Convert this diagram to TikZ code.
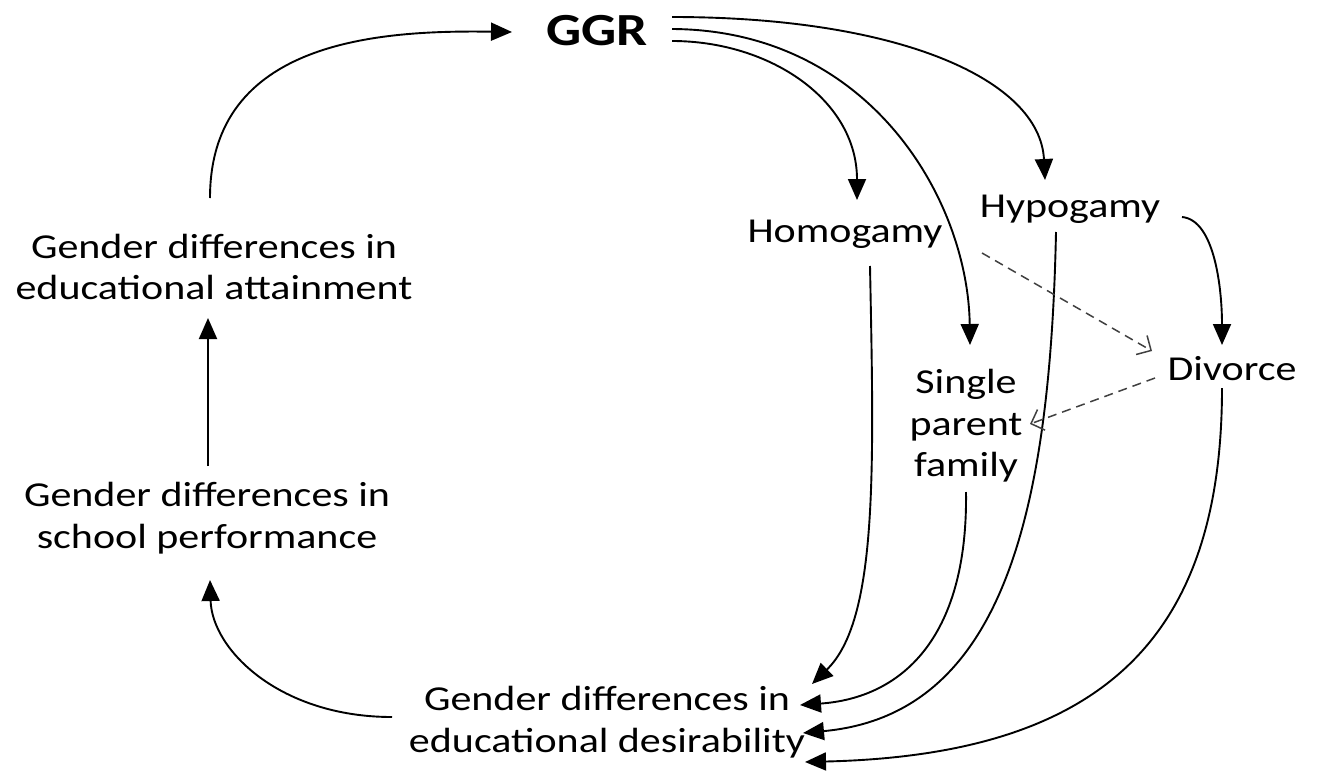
\documentclass[tikz,border=0pt]{standalone}
\usepackage{fontspec}
\setmainfont{Carlito}[FakeStretch=1.2]
\usetikzlibrary{arrows.meta}
\begin{document}
\begin{tikzpicture}[x=1pt,y=-1pt,
  txt/.style={inner sep=0pt,align=center,font=\fontsize{35}{41.5}\selectfont},
  arr/.style={line width=1.9pt,-{Triangle[length=21pt,width=18pt]}},
  darr/.style={line width=1.5pt,draw=black!75,dash pattern=on 9pt off 6pt,-{Straight Barb[length=11pt,width=22pt,line width=1.5pt]}}]
\useasboundingbox (0,0) rectangle (1319,771);
\node[txt,font=\fontsize{46}{50}\selectfont\bfseries] (ggr) at (597,31) {GGR};
\node[txt] (att) at (214,267) {Gender differences in\\educational attainment};
\node[txt] (sch) at (207,518) {Gender differences in\\school performance};
\node[txt] (des) at (607,722) {Gender differences in\\educational desirability};
\node[txt] (hom) at (845,234) {Homogamy};
\node[txt] (hyp) at (1070,209) {Hypogamy};
\node[txt] (div) at (1232,369) {Divorce};
\node[txt] (spf) at (966,426) {Single\\parent\\family};
% left cycle
\draw[arr] ([shift={(-4,-69)}]att.center) .. controls (210,40) and (380,30) .. ([shift={(-85,1)}]ggr.center);
\draw[arr] ([shift={(1,-52)}]sch.center) -- ([shift={(-6,51)}]att.center);
\draw[arr] ([shift={(-215,-5)}]des.center) .. controls (280,717) and (212,650) .. ([shift={(3,62)}]sch.center);
% from GGR
\draw[arr] ([shift={(75,10)}]ggr.center) .. controls (770,41) and (857,100) .. ([shift={(12,-34)}]hom.center);
\draw[arr] ([shift={(75,-2)}]ggr.center) .. controls (870,30) and (968,200) .. ([shift={(4,-81)}]spf.center);
\draw[arr] ([shift={(75,-14)}]ggr.center) .. controls (900,17) and (1040,80) .. ([shift={(-25,-29)}]hyp.center);
% to desirability
\draw[arr] ([shift={(25,32)}]hom.center) .. controls (874,470) and (878,620) .. ([shift={(205,-38)}]des.center);
\draw[arr] ([shift={(0,66)}]spf.center) .. controls (968,640) and (900,698) .. ([shift={(193,-17)}]des.center);
\draw[arr] ([shift={(-14,23)}]hyp.center) .. controls (1050,520) and (1000,715) .. ([shift={(196,11)}]des.center);
\draw[arr] ([shift={(-10,19)}]div.center) .. controls (1222,640) and (1100,755) .. ([shift={(198,40)}]des.center);
% hypogamy -> divorce
\draw[arr] ([shift={(112,8)}]hyp.center) .. controls (1215,220) and (1222,290) .. ([shift={(-10,-24)}]div.center);
% dashed
\draw[darr] ([shift={(137,19)}]hom.center) -- ([shift={(-80,-18)}]div.center);
\draw[darr] ([shift={(-77,9)}]div.center) -- ([shift={(64,-2)}]spf.center);
\end{tikzpicture}
\end{document}
